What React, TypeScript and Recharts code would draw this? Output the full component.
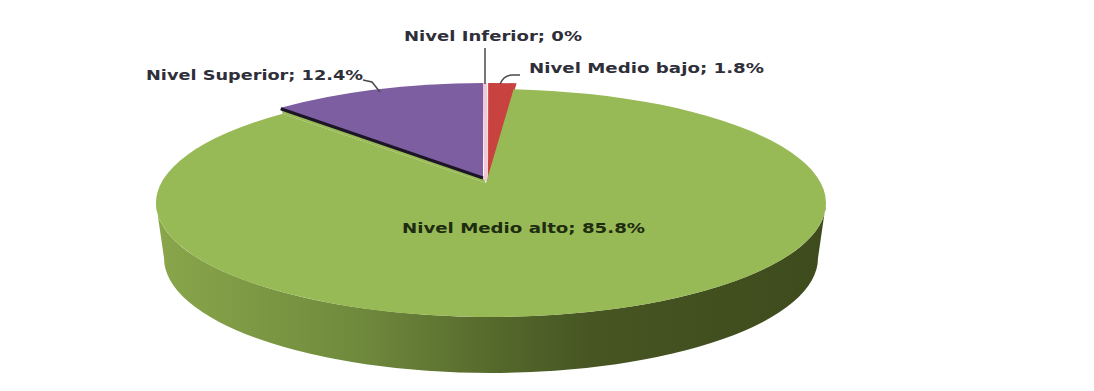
import React from 'react';
import { PieChart, Pie } from 'recharts';

const levels = ['Nivel Inferior', 'Nivel Medio bajo', 'Nivel Medio alto', 'Nivel Superior'];
const shares = [0, 1.8, 85.8, 12.4];

const data = levels.map((name, i) => ({ name, value: shares[i] }));

const CHART_W = 1094;
const CHART_H = 391;
const CENTER_X = 491;
const CENTER_Y = 203;
const RADIUS_X = 335;
const RADIUS_Y = 114;
const BASE_DROP = 55;
const BASE_RADIUS_X = 327;
const BASE_RADIUS_Y = 115;

// where each wedge sits on the tilted disc, relative to the disc centre
const wedgeLayout: Record<string, { fill: string; shiftX: number; shiftY: number; tipX: number; tipY: number }> = {
  'Nivel Inferior': { fill: '#f3c9d8', shiftX: 0, shiftY: -6, tipX: -6, tipY: -22 },
  'Nivel Medio bajo': { fill: '#c8423f', shiftX: 3, shiftY: -6, tipX: -3, tipY: -21 },
  'Nivel Medio alto': { fill: '#98ba56', shiftX: 0, shiftY: 0, tipX: -5, tipY: -20 },
  'Nivel Superior': { fill: '#7c5ea1', shiftX: -2, shiftY: -6, tipX: -8, tipY: -25 },
};

const labelLayout: Record<string, { x: number; y: number; width: number; color: string; leader?: string }> = {
  'Nivel Inferior': { x: 404, y: 41, width: 178, color: '#2f2f3a', leader: 'M485 48 L485 84' },
  'Nivel Medio bajo': { x: 529, y: 73, width: 235, color: '#2f2f3a', leader: 'M500 84 Q504 75 512 75 L520 75' },
  'Nivel Medio alto': { x: 402, y: 233, width: 243, color: '#1e2c10' },
  'Nivel Superior': { x: 146, y: 80, width: 217, color: '#2f2f3a', leader: 'M363 80 L372 82 L380 92' },
};

// perspective squeezes the angles around the diagonals of the ellipse
const toEllipseAngle = (chartAngle: number) => {
  const fromTop = 90 - chartAngle;
  const squeezed = fromTop - 7.2 * Math.sin((2 * fromTop * Math.PI) / 180);
  return 91 - squeezed;
};

const ellipsePoint = (cx: number, cy: number, deg: number) => ({
  x: cx + RADIUS_X * Math.cos((deg * Math.PI) / 180),
  y: cy - RADIUS_Y * Math.sin((deg * Math.PI) / 180),
});

const DiscWedge = (props: any) => {
  const { cx, cy, startAngle, endAngle, name } = props;
  const layout = wedgeLayout[name];
  const tipX = cx + layout.tipX;
  const tipY = cy + layout.tipY;
  const arcX = cx + layout.shiftX;
  const arcY = cy + layout.shiftY;
  const a0 = toEllipseAngle(startAngle);
  const a1 = toEllipseAngle(endAngle);
  const p0 = ellipsePoint(arcX, arcY, a0);
  const p1 = ellipsePoint(arcX, arcY, a1);

  if (startAngle === endAngle) {
    return <line x1={p0.x} y1={p0.y} x2={tipX + 1} y2={tipY} stroke={layout.fill} strokeWidth={4} />;
  }

  const large = a0 - a1 > 180 ? 1 : 0;
  const top = `M${tipX} ${tipY} L${p0.x} ${p0.y} A${RADIUS_X} ${RADIUS_Y} 0 ${large} 1 ${p1.x} ${p1.y} Z`;

  // only the big wedge faces the viewer, so it carries the side wall
  const isFront = a0 - a1 > 180;
  const wall =
    `M${cx - RADIUS_X} ${cy} A${RADIUS_X} ${RADIUS_Y} 0 0 0 ${cx + RADIUS_X} ${cy} ` +
    `L${cx + BASE_RADIUS_X} ${cy + BASE_DROP} A${BASE_RADIUS_X} ${BASE_RADIUS_Y} 0 0 1 ${cx - BASE_RADIUS_X} ${cy + BASE_DROP} Z`;

  // the lifted wedge leaves a strip open above the big one; keep it green
  const isLifted = name === 'Nivel Superior';
  const frontLayout = wedgeLayout['Nivel Medio alto'];
  const seat = ellipsePoint(cx, cy, a0);
  const filler = `M${p0.x} ${p0.y} L${tipX} ${tipY} L${cx + frontLayout.tipX} ${cy + frontLayout.tipY} L${seat.x} ${seat.y} Z`;

  return (
    <g>
      {isFront && (
        <>
          <defs>
            <linearGradient id="discWall" x1="0" y1="0" x2="1" y2="0">
              <stop offset="0%" stopColor="#8aa64b" />
              <stop offset="12%" stopColor="#7f9b45" />
              <stop offset="30%" stopColor="#708a3d" />
              <stop offset="50%" stopColor="#566a2c" />
              <stop offset="65%" stopColor="#465522" />
              <stop offset="100%" stopColor="#3e4b1d" />
            </linearGradient>
          </defs>
          <path d={wall} fill="url(#discWall)" />
        </>
      )}
      {isLifted && <path d={filler} fill={frontLayout.fill} />}
      <path d={top} fill={layout.fill} />
      {isLifted && <line x1={p0.x} y1={p0.y + 1} x2={tipX} y2={tipY} stroke="#1c1528" strokeWidth={3} />}
    </g>
  );
};

const renderLabel = (props: any) => {
  const { name, value } = props;
  const layout = labelLayout[name];
  return (
    <g>
      {layout.leader && <path d={layout.leader} fill="none" stroke="#4a4a4a" strokeWidth={1.5} />}
      <text
        x={layout.x}
        y={layout.y}
        textLength={layout.width}
        lengthAdjust="spacingAndGlyphs"
        fill={layout.color}
        fontFamily="'DejaVu Sans', sans-serif"
        fontWeight={700}
        fontSize={14}
      >
        {`${name}; ${value}%`}
      </text>
    </g>
  );
};

const App: React.FC = () => {
  return (
    <div style={{ position: 'absolute', left: 0, top: 0, width: CHART_W, height: CHART_H, background: '#fff' }}>
      <PieChart width={CHART_W} height={CHART_H} margin={{ top: 0, right: 0, bottom: 0, left: 0 }}>
        <Pie
          data={data}
          dataKey="value"
          nameKey="name"
          cx={CENTER_X}
          cy={CENTER_Y}
          outerRadius={RADIUS_X}
          startAngle={90}
          endAngle={-270}
          stroke="none"
          shape={DiscWedge}
          label={renderLabel}
          labelLine={false}
          isAnimationActive={false}
        />
      </PieChart>
    </div>
  );
};

export default App;
